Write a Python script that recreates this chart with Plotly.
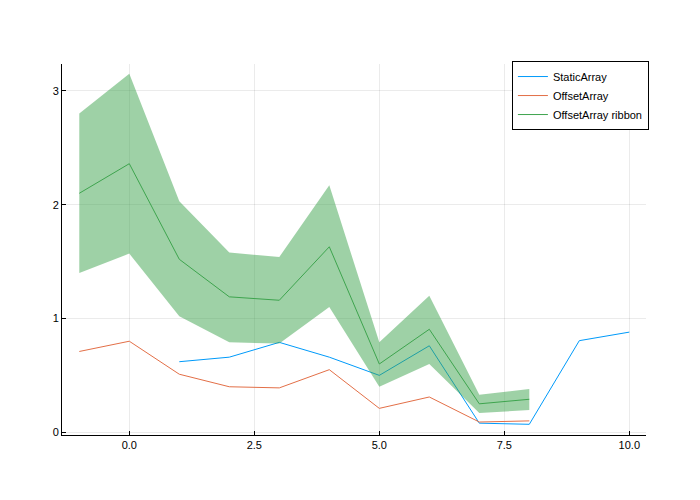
import plotly.graph_objects as go

x_static = [1, 2, 3, 4, 5, 6, 7, 8, 9, 10]
y_static = [0.62, 0.66, 0.79, 0.66, 0.50, 0.76, 0.08, 0.07, 0.805, 0.88]

x_offset = [-1, 0, 1, 2, 3, 4, 5, 6, 7, 8]
y_offset = [0.71, 0.80, 0.51, 0.40, 0.39, 0.55, 0.21, 0.31, 0.09, 0.10]

y_ribbon = [2.10, 2.36, 1.52, 1.19, 1.16, 1.63, 0.60, 0.905, 0.25, 0.29]
ribbon_upper = [2.80, 3.15, 2.03, 1.58, 1.54, 2.17, 0.79, 1.20, 0.33, 0.38]
ribbon_lower = [1.40, 1.57, 1.02, 0.79, 0.78, 1.10, 0.40, 0.60, 0.17, 0.195]

x_ticks = [0, 2.5, 5, 7.5, 10]
x_tick_labels = ["0.0", "2.5", "5.0", "7.5", "10.0"]
y_ticks = [0, 1, 2, 3]

blue = "#009AFA"
red = "#E36F47"
green = "#3EA44E"

fig = go.Figure()
fig.add_trace(go.Scatter(x=x_static, y=y_static, mode="lines", name="StaticArray",
                         line=dict(color=blue, width=1)))
fig.add_trace(go.Scatter(x=x_offset, y=y_offset, mode="lines", name="OffsetArray",
                         line=dict(color=red, width=1)))
fig.add_trace(go.Scatter(x=x_offset, y=ribbon_lower, mode="lines", showlegend=False,
                         line=dict(width=0), hoverinfo="skip"))
fig.add_trace(go.Scatter(x=x_offset, y=ribbon_upper, mode="lines", showlegend=False,
                         line=dict(width=0), fill="tonexty",
                         fillcolor="rgba(62,164,78,0.5)", hoverinfo="skip"))
fig.add_trace(go.Scatter(x=x_offset, y=y_ribbon, mode="lines", name="OffsetArray ribbon",
                         line=dict(color=green, width=1)))

axis_common = dict(showgrid=True, gridcolor="rgba(0,0,0,0.08)", gridwidth=1,
                   zeroline=False, showline=True, linecolor="black", linewidth=1,
                   ticks="inside", ticklen=4, tickcolor="black", automargin=False,
                   tickfont=dict(family="Liberation Sans, Arial, sans-serif", size=11, color="black"))

fig.update_xaxes(range=[-1.346, 10.334], tickvals=x_ticks, ticktext=x_tick_labels, **axis_common)
fig.update_yaxes(range=[-0.024, 3.236], tickvals=y_ticks, ticktext=[str(v) for v in y_ticks], **axis_common)

# page body has an 8px default margin, so shift the plot area up/left by 8px
fig.update_layout(
    width=700, height=500,
    margin=dict(l=54, r=62, t=56, b=73, autoexpand=False),
    plot_bgcolor="white", paper_bgcolor="white",
    font=dict(family="Liberation Sans, Arial, sans-serif", size=11, color="black"),
    legend=dict(x=1.005, y=1.008, xanchor="right", yanchor="top",
                bordercolor="black", borderwidth=1, bgcolor="white",
                traceorder="normal",
                font=dict(size=11), tracegroupgap=0),
)

fig.write_html("out.html")
